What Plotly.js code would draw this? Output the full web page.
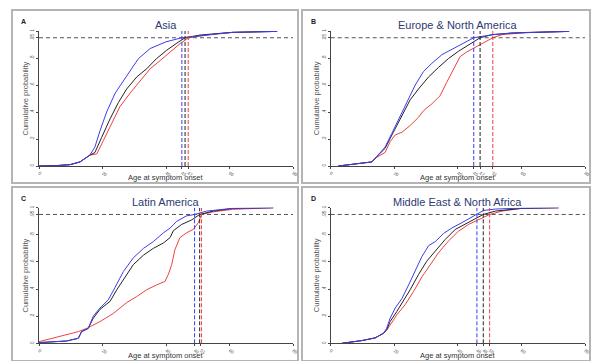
<!DOCTYPE html>
<html><head><meta charset="utf-8">
<script src="https://cdn.plot.ly/plotly-3.0.1.min.js"></script>
<style>html,body{margin:0;padding:0;background:#fff}#c{width:591px;height:361px}</style>
</head><body><div id="c"></div>
<script>
// ---- Data ----
const panelTitles = ["Asia", "Europe & North America", "Latin America", "Middle East & North Africa"];
const panelLetters = ["A", "B", "C", "D"];
const seriesNames = ["Blue group", "Overall", "Red group"];
const seriesColors = ["#3c3cf0", "#222222", "#f04040"];

// Asia
const asiaBlueAge = [0, 5, 9.8, 12.9, 16, 17.6, 19.2, 21.3, 24, 26.6, 31.3, 35, 40, 45, 50.7, 56, 61, 75];
const asiaBlueP   = [0, 0.002, 0.01, 0.03, 0.08, 0.14, 0.26, 0.40, 0.54, 0.63, 0.795, 0.87, 0.92, 0.95, 0.965, 0.98, 0.99, 0.997];
const asiaBlackAge = [0, 5, 9.8, 12.9, 16, 17.6, 19.7, 22.4, 25, 27.6, 30.8, 33.9, 37, 40.2, 43.4, 46, 50.7, 56, 61, 75];
const asiaBlackP   = [0, 0.002, 0.01, 0.03, 0.08, 0.10, 0.21, 0.35, 0.47, 0.57, 0.66, 0.72, 0.795, 0.857, 0.91, 0.95, 0.97, 0.982, 0.99, 0.997];
const asiaRedAge = [0, 5, 9.8, 12.9, 16, 18.2, 20.3, 22.9, 25.5, 28.7, 31.8, 35, 38.1, 41.3, 44.4, 46.5, 47.3, 52.8, 56, 61, 75];
const asiaRedP   = [0, 0.002, 0.01, 0.03, 0.08, 0.09, 0.19, 0.31, 0.44, 0.54, 0.63, 0.72, 0.78, 0.845, 0.906, 0.94, 0.95, 0.97, 0.98, 0.99, 0.997];

// Europe & North America
const eurBlueAge = [2.4, 9.8, 12.9, 14.5, 17.1, 19.2, 21.3, 23.9, 26.6, 29.2, 31.8, 35, 39.2, 42.3, 45, 47.6, 51.2, 57, 75];
const eurBlueP   = [0, 0.02, 0.03, 0.07, 0.14, 0.24, 0.34, 0.47, 0.60, 0.70, 0.76, 0.825, 0.88, 0.92, 0.95, 0.96, 0.973, 0.985, 0.997];
const eurBlackAge = [2.4, 9.8, 12.9, 14.5, 17.1, 19.7, 22.4, 25, 27.6, 30.8, 33.9, 37, 40.2, 43.4, 47, 50.7, 57, 75];
const eurBlackP   = [0, 0.02, 0.03, 0.07, 0.13, 0.25, 0.375, 0.49, 0.57, 0.66, 0.73, 0.795, 0.85, 0.895, 0.95, 0.973, 0.985, 0.997];
const eurRedAge = [2.4, 9.8, 12.9, 14.5, 17.1, 18.7, 20.3, 22.4, 25, 27.6, 29.2, 31.8, 34.4, 36.5, 38.6, 40.7, 42.8, 45.5, 48.1, 49.7, 51, 53.9, 62, 75];
const eurRedP   = [0, 0.02, 0.03, 0.065, 0.10, 0.18, 0.23, 0.25, 0.30, 0.36, 0.41, 0.46, 0.52, 0.62, 0.72, 0.81, 0.845, 0.88, 0.91, 0.93, 0.95, 0.973, 0.99, 0.997];

// Latin America
const latBlueAge = [0, 8.7, 12.4, 13.4, 15.5, 17.1, 19.2, 21.8, 23.9, 26.6, 29.7, 32.9, 36, 39.2, 41.3, 43.4, 46.5, 49, 52.8, 61, 73.8];
const latBlueP   = [0.005, 0.017, 0.037, 0.086, 0.11, 0.20, 0.26, 0.32, 0.41, 0.53, 0.63, 0.70, 0.75, 0.815, 0.85, 0.90, 0.94, 0.95, 0.975, 0.995, 1.0];
const latBlackAge = [0, 8.7, 12.4, 13.4, 15.5, 17.1, 19.2, 22.4, 24.5, 27.1, 29.7, 32.9, 36, 39.2, 41.3, 42.3, 44.9, 48.1, 50.6, 54.9, 61, 73.8];
const latBlackP   = [0.005, 0.017, 0.037, 0.086, 0.11, 0.185, 0.25, 0.31, 0.395, 0.49, 0.58, 0.65, 0.70, 0.74, 0.78, 0.83, 0.876, 0.91, 0.95, 0.975, 0.995, 1.0];
const latRedAge = [0, 4.5, 8.7, 12.4, 15, 19.2, 23.4, 27.6, 30.8, 33.9, 37, 39.7, 40.7, 41.8, 42.8, 44.4, 46.5, 48.6, 50.2, 51.2, 54.9, 61, 73.8];
const latRedP   = [0.012, 0.037, 0.06, 0.086, 0.11, 0.16, 0.22, 0.30, 0.345, 0.395, 0.43, 0.457, 0.506, 0.58, 0.69, 0.78, 0.815, 0.84, 0.89, 0.95, 0.97, 0.988, 1.0];

// Middle East & North Africa
const menaBlueAge = [3.5, 9.8, 14, 16.6, 17.6, 18.7, 20.3, 22.4, 24.5, 26.6, 28.7, 30.8, 32.9, 35.5, 38.1, 41.3, 43.9, 46, 48.1, 51.8, 60, 71.7];
const menaBlueP   = [0, 0.02, 0.04, 0.074, 0.11, 0.185, 0.26, 0.33, 0.43, 0.53, 0.64, 0.72, 0.75, 0.81, 0.85, 0.89, 0.925, 0.95, 0.98, 0.99, 0.997, 1.0];
const menaBlackAge = [3.5, 9.8, 14, 16.6, 17.6, 18.7, 20.8, 22.9, 25, 27.6, 30.2, 32.9, 36, 39.2, 42.3, 45.5, 48, 51.8, 60, 71.7];
const menaBlackP   = [0, 0.02, 0.04, 0.074, 0.10, 0.16, 0.235, 0.31, 0.395, 0.506, 0.605, 0.68, 0.765, 0.84, 0.877, 0.914, 0.95, 0.975, 0.995, 1.0];
const menaRedAge = [3.5, 9.8, 14, 16.6, 17.6, 18.7, 20.8, 23.4, 26, 28.7, 31.3, 33.9, 37, 40.2, 43.4, 46.5, 50, 53.9, 60, 71.7];
const menaRedP   = [0, 0.02, 0.04, 0.074, 0.095, 0.136, 0.21, 0.284, 0.38, 0.49, 0.58, 0.667, 0.753, 0.827, 0.877, 0.914, 0.95, 0.975, 0.995, 1.0];

// 95th-percentile ages (blue, black, red) per panel
const cutAsia = [45, 46, 47];
const cutEur  = [45, 47, 51];
const cutLat  = [49, 50.6, 51.2];
const cutMena = [46, 48, 50];

// tick values and labels
const yTickVals = [0, 0.2, 0.4, 0.6, 0.8, 0.95, 1];
const yTickText = ["0", ".2", ".4", ".6", ".8", ".95", "1"];
const xTickAsia = [0, 20, 40, 45, 47, 60, 80];
const xTickEur  = [0, 20, 40, 45, 47, 51, 60, 80];
const xTickLat  = [0, 20, 40, 49, 51, 60, 80];
const xTickMena = [0, 20, 40, 46, 48, 50, 60, 80];
const quantileLevel = 0.95;

// ---- Build ----
const W = 591, H = 361;
const px = v => v / W, py = v => 1 - v / H;
const panels = [
  {ages:[asiaBlueAge, asiaBlackAge, asiaRedAge], ps:[asiaBlueP, asiaBlackP, asiaRedP], cut:cutAsia, xt:xTickAsia,
   xd:[39, 293], yd:[166, 31], frame:[12, 10, 298, 183]},
  {ages:[eurBlueAge, eurBlackAge, eurRedAge], ps:[eurBlueP, eurBlackP, eurRedP], cut:cutEur, xt:xTickEur,
   xd:[330.7, 585], yd:[166, 31], frame:[302, 10, 590, 183]},
  {ages:[latBlueAge, latBlackAge, latRedAge], ps:[latBlueP, latBlackP, latRedP], cut:cutLat, xt:xTickLat,
   xd:[39, 293], yd:[343.3, 207.7], frame:[12, 187, 298, 361]},
  {ages:[menaBlueAge, menaBlackAge, menaRedAge], ps:[menaBlueP, menaBlackP, menaRedP], cut:cutMena, xt:xTickMena,
   xd:[330.7, 585], yd:[343.3, 207.7], frame:[302, 187, 590, 361]}
];

const traces = [];
const layout = {
  width: W, height: H, margin: {l:0, r:0, t:0, b:0},
  paper_bgcolor: "#fff", plot_bgcolor: "#fff", showlegend: false,
  font: {family: "Liberation Sans, Arial, sans-serif"},
  shapes: [], annotations: []
};

panels.forEach((p, i) => {
  const n = i + 1;
  const xa = n === 1 ? "xaxis" : "xaxis" + n;
  const ya = n === 1 ? "yaxis" : "yaxis" + n;
  const xr = n === 1 ? "x" : "x" + n;
  const yr = n === 1 ? "y" : "y" + n;
  layout[xa] = {
    domain: [px(p.xd[0]), px(p.xd[1])], range: [0, 80], anchor: yr,
    showgrid: false, zeroline: false, showline: true, linecolor: "#444", linewidth: 1,
    ticks: "outside", ticklen: 2, tickcolor: "#444", tickwidth: 1,
    tickvals: p.xt, ticktext: p.xt.map(String),
    tickfont: {size: 4.5, color: "#555"}
  };
  layout[ya] = {
    domain: [py(p.yd[0]), py(p.yd[1])], range: [0, 1], anchor: xr,
    showgrid: false, zeroline: false, showline: true, linecolor: "#444", linewidth: 1,
    ticks: "outside", ticklen: 2, tickcolor: "#444", tickwidth: 1,
    tickvals: yTickVals, ticktext: yTickText, tickangle: -90,
    tickfont: {size: 4.5, color: "#555"}
  };
  const f = p.frame;
  layout.shapes.push({type: "rect", xref: "paper", yref: "paper",
    x0: px(f[0]), x1: px(f[2]), y0: py(f[3]), y1: py(f[1]),
    line: {color: "#b4b4b4", width: 2}, layer: "below"});
  layout.shapes.push({type: "line", xref: xr, yref: yr, x0: 0, x1: 80, y0: quantileLevel, y1: quantileLevel,
    line: {color: "#555", width: 1, dash: "4px,3px"}});
  p.cut.forEach((c, k) => {
    layout.shapes.push({type: "line", xref: xr, yref: yr, x0: c, x1: c, y0: 0, y1: 1,
      line: {color: seriesColors[k], width: 1, dash: "4px,2px"}});
  });
  [2, 1, 0].forEach(k => {
    traces.push({type: "scatter", mode: "lines", x: p.ages[k], y: p.ps[k], xaxis: xr, yaxis: yr,
      name: seriesNames[k], line: {color: seriesColors[k], width: 1}, hoverinfo: "skip"});
  });
  layout.annotations.push({xref: "paper", yref: "paper", x: px((p.xd[0] + p.xd[1]) / 2), y: py(f[1] + 15),
    text: panelTitles[i], showarrow: false, font: {size: 11, color: "#2e3a72"}, xanchor: "center", yanchor: "middle"});
  layout.annotations.push({xref: "paper", yref: "paper", x: px(f[0] + 11), y: py(f[1] + 12),
    text: "<b>" + panelLetters[i] + "</b>", showarrow: false, font: {size: 7, color: "#222"}, xanchor: "center", yanchor: "middle"});
  layout.annotations.push({xref: "paper", yref: "paper", x: px(p.xd[0] - 14), y: py((p.yd[0] + p.yd[1]) / 2),
    text: "Cumulative probability", textangle: -90, showarrow: false, font: {size: 7.5, color: "#555"},
    xanchor: "center", yanchor: "middle"});
  layout.annotations.push({xref: "paper", yref: "paper", x: px((p.xd[0] + p.xd[1]) / 2), y: py(p.yd[0] + 12),
    text: "Age at symptom onset", showarrow: false, font: {size: 7.5, color: "#333"},
    xanchor: "center", yanchor: "middle"});
});

Plotly.newPlot("c", traces, layout, {staticPlot: true, displayModeBar: false});
</script>
</body></html>
